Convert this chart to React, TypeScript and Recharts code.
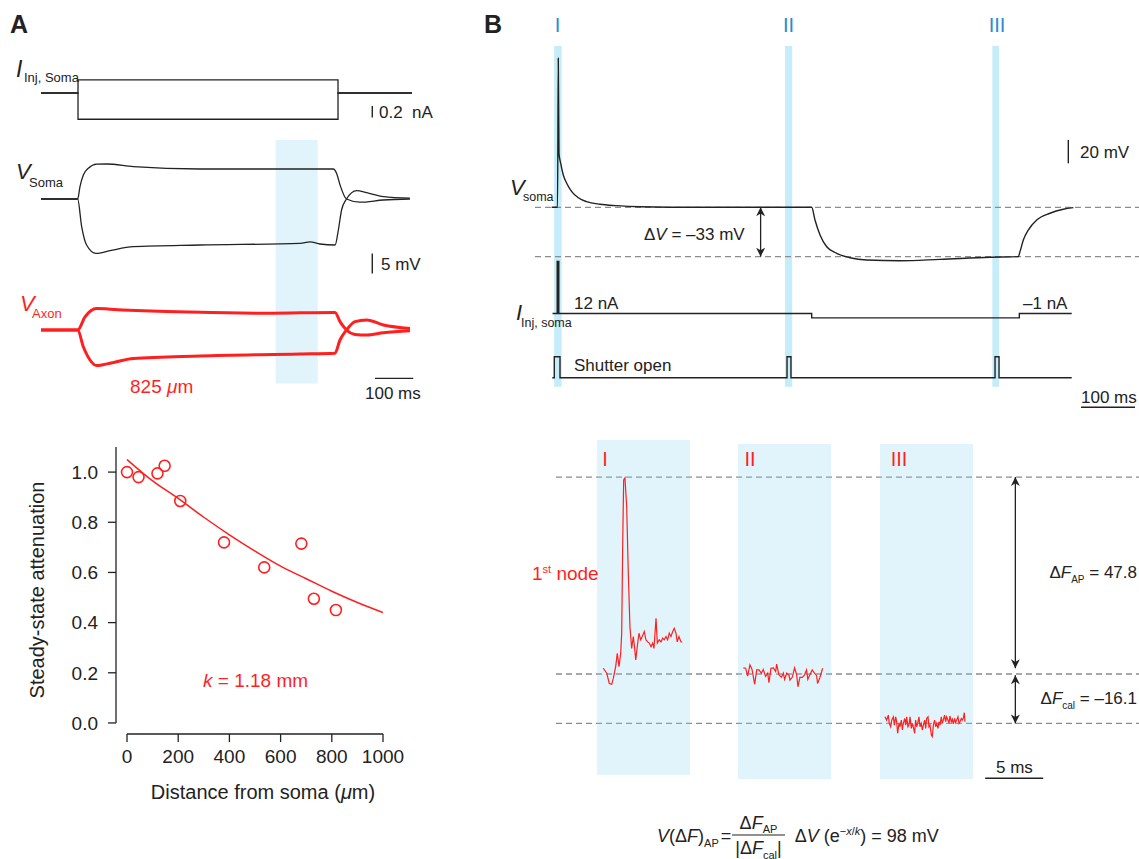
import React from "react";
import {
  ComposedChart,
  Line,
  LineChart,
  ReferenceArea,
  ReferenceLine,
  Scatter,
  XAxis,
  YAxis,
} from "recharts";

type Pt = [number, number];

const INK = "#222";
const RED = "#ff1f1f";
const DASH = "#8c8c8c";
const BLUE_TXT = "#2a8bd0";
const FONT = '"Liberation Sans", Arial, Helvetica, sans-serif';
const ZERO = { top: 0, right: 0, bottom: 0, left: 0 };

// ---------- Panel A, traces (time in ms; current in nA; voltage in mV from rest) ----------
const iStepUp: Pt[] = [[0, 0], [97.4, 0], [97.4, 0.23], [781.6, 0.23], [781.6, 0], [976, 0]];
const iStepDown: Pt[] = [[0, 0], [97.4, 0], [97.4, -0.46], [781.6, -0.46], [781.6, 0], [976, 0]];

const vSomaUp: Pt[] = [
  [0, 0], [96.5, 0], [102.6, 3.1], [111.4, 6.0], [124.6, 7.7], [146.5, 8.7], [172.8, 8.75],
  [243, 8.1], [418, 7.5], [769, 7.5], [778, 6.4], [787, 3.5], [804, 0], [839, -0.8],
  [901, -0.25], [971, 0],
];
const vSomaDown: Pt[] = [
  [0, 0], [96.5, 0], [107, -6.9], [120, -11.5], [144.7, -13.6], [181.6, -12.9], [243, -11.9],
  [418, -11.5], [681.6, -11.1], [708, -10.7], [734, -11.25], [774, -11.5], [782.5, -7.75],
  [791, -2.75], [804, 0], [830.7, 2.1], [857, 1.6], [901, 0.6], [971, 0.2],
];
const vAxonUp: Pt[] = [
  [0, 0], [96.5, 0], [115.8, 3.3], [146.5, 5.4], [181.6, 5.2], [330.7, 4.6], [593.9, 4.2],
  [773.7, 4.4], [786.8, 2.1], [804, 0], [826.3, -1.1], [857, -1.25], [901, -0.7], [971, -0.2],
];
const vAxonDown: Pt[] = [
  [0, 0], [96.5, 0], [111.4, -4.2], [129, -7.5], [146.5, -8.9], [181.6, -8.3], [243, -7.1],
  [418, -6.5], [681.6, -6.0], [773.7, -5.8], [786.8, -2.5], [804, 0], [826.3, 2.1], [857, 2.5],
  [901, 1.25], [971, 0.4],
];

// ---------- Panel A, attenuation vs distance ----------
const distance = [0, 45, 119, 147, 208, 379, 536, 681, 730, 816];
const attenuation = [1.0, 0.98, 0.995, 1.025, 0.885, 0.72, 0.62, 0.715, 0.495, 0.45];
const fitDistance = [0, 100, 200, 300, 400, 500, 600, 700, 800, 900, 1000];
const fitAttenuation = [1.05, 0.965, 0.895, 0.82, 0.75, 0.685, 0.625, 0.575, 0.525, 0.48, 0.44];
const distanceTicks = [0, 200, 400, 600, 800, 1000];
const attenuationTicks = [0, 0.2, 0.4, 0.6, 0.8, 1.0];

// ---------- Panel B, protocol (time in ms) ----------
const vSomaB: Pt[] = [
  [30.9, 0], [41.7, 0], [43.1, 127.7], [44.4, 46.3], [47.6, 37.7], [52.4, 27.7], [58.7, 20.6],
  [68, 13.4], [80.2, 8.2], [95.7, 4.8], [120.4, 2.6], [151.3, 1.4], [194.4, 0.5], [305.6, 0],
  [512.4, 0], [518.5, -10.9], [527.8, -23.7], [540.2, -33.8], [558.7, -39.4], [583.3, -43.2],
  [614.3, -45.2], [675.9, -45.8], [750, -44.6], [842.6, -42.8], [895, -42.3], [898.1, -38],
  [904.3, -28], [913.5, -19.5], [929.1, -10.9], [953.7, -5.1], [978.3, -1.7], [996.9, -0.3],
];
const iInjB: Pt[] = [[32.4, 0], [512.4, 0], [512.4, -1], [896.9, -1], [896.9, 0], [993.9, 0]];
const iSpikeB: Pt[] = [[42.6, 0], [42.6, 12]];
const shutter: Pt[] = [
  [32, 0], [35.7, 0], [35.7, 1], [46.3, 1], [46.3, 0], [466.7, 0], [466.7, 1], [474, 1],
  [474, 0], [851.9, 0], [851.9, 1], [859.3, 1], [859.3, 0], [993.9, 0],
];
const windowsB: Pt[] = [[35.5, 49.3], [463, 476.3], [846.9, 859.3]];
const restLevel = 0;
const stepLevel = -42.3;

// ---------- Panel B, 1st node fluorescence (ms within window, ΔF) ----------
const nodeAP: Pt[] = [
  [0.54, 1.4], [0.84, 0.2], [1.06, -2.3], [1.27, -2.5], [1.41, -1.0], [1.61, 1.8], [1.75, 5.0],
  [1.9, 1.8], [2.04, 5.0], [2.13, 9.9], [2.22, 32.5], [2.3, 47.1], [2.41, 47.6], [2.56, 40.6],
  [2.7, 24.4], [2.84, 11.5], [2.99, 6.2], [3.13, 9.1], [3.22, 7.0], [3.34, 3.4], [3.47, 6.6],
  [3.62, 9.9], [3.77, 8.3], [3.9, 9.1], [4.08, 10.3], [4.22, 8.3], [4.37, 7.8], [4.51, 7.5],
  [4.66, 6.6], [4.8, 7.5], [4.91, 6.2], [5.09, 13.5], [5.2, 7.5], [5.37, 8.3], [5.52, 7.8],
  [5.66, 8.7], [5.8, 8.3], [5.95, 9.1], [6.09, 8.3], [6.23, 9.9], [6.38, 9.1], [6.53, 10.3],
  [6.66, 11.1], [6.81, 9.9], [6.92, 7.8], [7.07, 9.1], [7.24, 7.8], [7.35, 7.7],
];
const nodeRest: Pt[] = [
  [0.46, 1.5], [0.66, 1.4], [0.83, -0.5], [1.03, 2.2], [1.21, 1.1], [1.44, -2.5], [1.61, 1.0],
  [1.81, 1.0], [2.01, 0.2], [2.18, 1.1], [2.38, -0.6], [2.56, 0.2], [2.67, -2.1], [2.84, 1.4],
  [3.05, 1.5], [3.25, 0.6], [3.33, 2.4], [3.53, -0.2], [3.74, -0.8], [3.91, 0.2], [4.02, -1.3],
  [4.2, 0.2], [4.4, -0.3], [4.48, -1.5], [4.68, -0.8], [4.88, 1.5], [5.06, -0.2], [5.17, -3.1],
  [5.34, -0.8], [5.54, -0.8], [5.74, -0.2], [5.91, 1.0], [6.02, -1.3], [6.2, -0.2], [6.4, 1.0],
  [6.6, 0.2], [6.78, -0.4], [6.86, -2.3], [7.07, -0.8], [7.3, 1.4],
];
const nodeHyper: Pt[] = [
  [0.43, -10.4], [0.57, -11.2], [0.72, -10.0], [0.8, -12.0], [0.92, -12.8], [1.01, -11.2],
  [1.15, -10.4], [1.24, -12.4], [1.35, -10.4], [1.44, -11.6], [1.52, -14.4], [1.64, -12.0],
  [1.72, -12.8], [1.84, -11.2], [1.93, -13.6], [2.01, -12.0], [2.13, -10.8], [2.21, -12.4],
  [2.3, -10.4], [2.41, -12.8], [2.5, -12.4], [2.59, -10.4], [2.7, -13.2], [2.79, -12.0],
  [2.87, -12.8], [2.99, -14.4], [3.07, -11.2], [3.16, -12.8], [3.25, -12.0], [3.36, -10.4],
  [3.45, -12.8], [3.56, -12.0], [3.65, -13.6], [3.74, -12.4], [3.85, -11.2], [3.94, -13.2],
  [4.02, -10.8], [4.14, -10.4], [4.22, -12.8], [4.31, -12.4], [4.43, -14.8], [4.51, -15.2],
  [4.6, -12.4], [4.71, -11.2], [4.8, -12.8], [4.89, -12.0], [5.0, -13.2], [5.09, -11.6],
  [5.17, -12.4], [5.29, -10.4], [5.37, -12.0], [5.46, -11.2], [5.57, -10.0], [5.66, -11.6],
  [5.75, -10.4], [5.86, -11.2], [5.95, -12.0], [6.03, -10.2], [6.15, -11.6], [6.24, -11.0],
  [6.32, -12.1], [6.44, -10.8], [6.52, -11.8], [6.61, -11.2], [6.72, -10.4], [6.81, -12.0],
  [6.9, -11.6], [7.01, -10.8], [7.1, -11.2], [7.18, -10.8], [7.27, -9.4], [7.33, -11.6],
];
const dFap = 47.8;
const dFcal = -12.0;

const pts = (arr: Pt[]) => arr.map(([t, v]) => ({ t, v }));

const line = (key: string, data: Pt[], axis: string, stroke = INK, width = 1.3, curve: any = "linear") => (
  <Line
    key={key}
    data={pts(data)}
    dataKey="v"
    yAxisId={axis}
    type={curve}
    stroke={stroke}
    strokeWidth={width}
    dot={false}
    activeDot={false}
    isAnimationActive={false}
  />
);

const bar = (key: string, axis: string, x1: number, y1: number, x2: number, y2: number, extra: any = {}) => (
  <ReferenceLine
    key={key}
    yAxisId={axis}
    segment={[{ x: x1, y: y1 }, { x: x2, y: y2 }]}
    stroke={INK}
    strokeWidth={1.4}
    ifOverflow="visible"
    {...extra}
  />
);

const arrows = { markerStart: "url(#arrowHead)", markerEnd: "url(#arrowHead)", strokeWidth: 1.3 };

function Txt({ x, y, size = 17, color = INK, italic, weight, anchor = "start", children }: any) {
  const tx = anchor === "middle" ? "-50%" : anchor === "end" ? "-100%" : "0";
  return (
    <div
      style={{
        position: "absolute",
        left: x,
        top: y,
        transform: `translate(${tx}, -50%)`,
        fontSize: size,
        color,
        fontStyle: italic ? "italic" : "normal",
        fontWeight: weight,
        lineHeight: 1,
        whiteSpace: "nowrap",
        fontFamily: FONT,
      }}
    >
      {children}
    </div>
  );
}

const Sub = ({ children, size = 11, drop = 5 }: any) => (
  <span style={{ fontSize: size, position: "relative", top: drop }}>{children}</span>
);

function At({ left, top, children }: any) {
  return <div style={{ position: "absolute", left, top }}>{children}</div>;
}

function nodeWindow(key: string, left: number, top: number, yDom: [number, number], data: Pt[]) {
  return (
    <At key={key} left={left} top={top}>
      <LineChart width={93} height={335} margin={ZERO}>
        <XAxis type="number" dataKey="t" domain={[0, 8.02]} hide allowDataOverflow />
        <YAxis yAxisId="f" type="number" domain={yDom} hide allowDataOverflow />
        <ReferenceArea
          yAxisId="f"
          x1={0}
          x2={8.02}
          y1={yDom[0]}
          y2={yDom[1]}
          fill="rgb(135,210,240)"
          fillOpacity={0.25}
          stroke="none"
          ifOverflow="visible"
        />
        {line(key + "-trace", data, "f", RED, 1.2)}
      </LineChart>
    </At>
  );
}

export default function App() {
  const scatterData = distance.map((x, i) => ({ x, y: attenuation[i] }));
  const fitData = fitDistance.map((x, i) => ({ x, y: fitAttenuation[i] }));
  const ring = (p: any) => <circle cx={p.cx} cy={p.cy} r={5.5} fill="none" stroke={RED} strokeWidth={1.6} />;

  return (
    <div
      style={{
        position: "absolute",
        left: 0,
        top: 0,
        width: 1139,
        height: 859,
        background: "#fff",
        overflow: "hidden",
        fontFamily: FONT,
        color: INK,
      }}
    >
      <svg width={0} height={0} style={{ position: "absolute" }}>
        <defs>
          <marker
            id="arrowHead"
            viewBox="0 0 10 10"
            refX={10}
            refY={5}
            markerWidth={10}
            markerHeight={9}
            markerUnits="userSpaceOnUse"
            orient="auto-start-reverse"
          >
            <path d="M0,0 L10,5 L0,10 L3,5 z" fill={INK} />
          </marker>
        </defs>
      </svg>

      {/* ---------------- Panel A traces ---------------- */}
      <At left={41} top={40}>
        <LineChart width={380} height={360} margin={ZERO}>
          <XAxis type="number" dataKey="t" domain={[0, 1000]} hide allowDataOverflow />
          <YAxis yAxisId="cur" type="number" domain={[-5.386, 0.93]} hide allowDataOverflow />
          <YAxis yAxisId="soma" type="number" domain={[-50.25, 39.75]} hide allowDataOverflow />
          <YAxis yAxisId="axon" type="number" domain={[-17.5, 72.5]} hide allowDataOverflow />
          <ReferenceArea
            yAxisId="soma"
            x1={617.6}
            x2={728.2}
            y1={14.75}
            y2={-46.1}
            fill="rgb(135,210,240)"
            fillOpacity={0.25}
            stroke="none"
            ifOverflow="visible"
          />
          {line("iUp", iStepUp, "cur")}
          {line("iDown", iStepDown, "cur")}
          {line("vsUp", vSomaUp, "soma", INK, 1.3, "monotone")}
          {line("vsDown", vSomaDown, "soma", INK, 1.3, "monotone")}
          {line("vaUp", vAxonUp, "axon", RED, 3, "monotone")}
          {line("vaDown", vAxonDown, "axon", RED, 3, "monotone")}
          {bar("nA", "cur", 871.8, -0.23, 871.8, -0.43)}
          {bar("mV5", "soma", 871.8, -13.6, 871.8, -18.6)}
          {bar("ms100", "axon", 878.9, -12.1, 979.7, -12.1)}
        </LineChart>
      </At>

      <Txt x={10} y={24} size={25} weight="bold">A</Txt>
      <Txt x={16} y={69} size={23} italic>I</Txt>
      <Txt x={24} y={77} size={13}>Inj, Soma</Txt>
      <Txt x={379} y={112}>0.2&nbsp;&nbsp;nA</Txt>
      <Txt x={16} y={172} size={22} italic>V</Txt>
      <Txt x={29} y={182} size={13}>Soma</Txt>
      <Txt x={381} y={264}>5 mV</Txt>
      <Txt x={20} y={304} size={22} italic color={RED}>V</Txt>
      <Txt x={32} y={313} size={13} color={RED}>Axon</Txt>
      <Txt x={130} y={386} size={19} color={RED}>
        825 <i>μ</i>m
      </Txt>
      <Txt x={365} y={393}>100 ms</Txt>

      {/* ---------------- Panel A attenuation ---------------- */}
      <At left={56} top={447}>
        <ComposedChart width={357} height={327} margin={{ top: 0, right: 30, bottom: 0, left: 0 }}>
          <XAxis
            type="number"
            dataKey="x"
            domain={[-43, 1000]}
            ticks={distanceTicks}
            interval={0}
            axisLine={false}
            tickSize={8}
            tickMargin={8}
            height={40}
            tick={{ fontSize: 19, fill: INK }}
            tickLine={{ stroke: INK, strokeWidth: 1.3 }}
            allowDataOverflow
          />
          <YAxis
            type="number"
            dataKey="y"
            domain={[-0.044, 1.1]}
            ticks={attenuationTicks}
            interval={0}
            tickFormatter={(v: number) => v.toFixed(1)}
            axisLine={false}
            tickSize={8}
            tickMargin={10}
            width={60}
            tick={{ fontSize: 19, fill: INK }}
            tickLine={{ stroke: INK, strokeWidth: 1.3 }}
            allowDataOverflow
          />
          <ReferenceLine segment={[{ x: -43, y: 0 }, { x: -43, y: 1.1 }]} stroke={INK} strokeWidth={1.3} ifOverflow="visible" />
          <ReferenceLine segment={[{ x: 0, y: -0.044 }, { x: 1000, y: -0.044 }]} stroke={INK} strokeWidth={1.3} ifOverflow="visible" />
          <Line data={fitData} dataKey="y" type="monotone" stroke={RED} strokeWidth={1.5} dot={false} activeDot={false} isAnimationActive={false} />
          <Scatter data={scatterData} dataKey="y" shape={ring} isAnimationActive={false} />
        </ComposedChart>
      </At>
      <div
        style={{
          position: "absolute",
          left: 37,
          top: 590,
          transform: "translate(-50%, -50%) rotate(-90deg)",
          fontSize: 20,
          lineHeight: 1,
          whiteSpace: "nowrap",
        }}
      >
        Steady-state attenuation
      </div>
      <Txt x={263} y={792} size={20} anchor="middle">
        Distance from soma (<i>μ</i>m)
      </Txt>
      <Txt x={203} y={680} size={19} color={RED}>
        <i>k</i> = 1.18 mm
      </Txt>

      {/* ---------------- Panel B protocol ---------------- */}
      <At left={535} top={40}>
        <LineChart width={604} height={380} margin={ZERO}>
          <XAxis type="number" dataKey="t" domain={[0, 1118.5]} hide allowDataOverflow />
          <YAxis yAxisId="vs" type="number" domain={[-182.3, 143.4]} hide allowDataOverflow />
          <YAxis yAxisId="inj" type="number" domain={[-24.2, 62.16]} hide allowDataOverflow />
          <YAxis yAxisId="sh" type="number" domain={[-2.014, 16.08]} hide allowDataOverflow />
          {windowsB.map(([a, b], i) => (
            <ReferenceArea
              key={"w" + i}
              yAxisId="vs"
              x1={a}
              x2={b}
              y1={138.2}
              y2={-153.7}
              fill="rgb(100,205,240)"
              fillOpacity={0.38}
              stroke="none"
              ifOverflow="visible"
            />
          ))}
          <ReferenceLine yAxisId="vs" y={restLevel} stroke={DASH} strokeWidth={1.3} strokeDasharray="6 4" ifOverflow="visible" />
          <ReferenceLine yAxisId="vs" y={stepLevel} stroke={DASH} strokeWidth={1.3} strokeDasharray="6 4" ifOverflow="visible" />
          {line("vB", vSomaB, "vs", INK, 1.4, "monotone")}
          {line("iB", iInjB, "inj", INK, 1.4)}
          {line("iSp", iSpikeB, "inj", INK, 3)}
          {line("sh", shutter, "sh", INK, 1.4)}
          {bar("mV20", "vs", 987.6, 37.7, 987.6, 57.7)}
          {bar("ms100B", "vs", 1011.1, -171.4, 1111.1, -171.4)}
          {bar("dV", "vs", 417.8, restLevel, 417.8, stepLevel, arrows)}
        </LineChart>
      </At>

      <Txt x={484} y={24} size={25} weight="bold">B</Txt>
      <Txt x={557.5} y={25} size={20} color={BLUE_TXT} anchor="middle">I</Txt>
      <Txt x={788.5} y={25} size={20} color={BLUE_TXT} anchor="middle">II</Txt>
      <Txt x={997} y={25} size={20} color={BLUE_TXT} anchor="middle">III</Txt>
      <Txt x={1080} y={152}>20 mV</Txt>
      <Txt x={510} y={188} size={22} italic>V</Txt>
      <Txt x={523} y={197} size={12.5}>soma</Txt>
      <Txt x={644} y={234}>
        Δ<i>V</i> = –33 mV
      </Txt>
      <Txt x={574} y={303}>12 nA</Txt>
      <Txt x={1023} y={303}>–1 nA</Txt>
      <Txt x={516} y={313} size={22} italic>I</Txt>
      <Txt x={521} y={323} size={12.5}>Inj, soma</Txt>
      <Txt x={574} y={365}>Shutter open</Txt>
      <Txt x={1081} y={397}>100 ms</Txt>

      {/* ---------------- Panel B fluorescence ---------------- */}
      <At left={556} top={430}>
        <LineChart width={583} height={360} margin={ZERO}>
          <XAxis type="number" dataKey="t" domain={[0, 50.26]} hide allowDataOverflow />
          <YAxis yAxisId="f" type="number" domain={[-28.16, 59.22]} hide allowDataOverflow />
          <ReferenceLine yAxisId="f" y={dFap} stroke={DASH} strokeWidth={1.3} strokeDasharray="6 4" ifOverflow="visible" />
          <ReferenceLine yAxisId="f" y={0} stroke={DASH} strokeWidth={1.3} strokeDasharray="6 4" ifOverflow="visible" />
          <ReferenceLine yAxisId="f" y={dFcal} stroke={DASH} strokeWidth={1.3} strokeDasharray="6 4" ifOverflow="visible" />
          {bar("apArrow", "f", 39.6, 1.4, 39.6, dFap, arrows)}
          {bar("calArrow", "f", 39.6, -0.3, 39.6, dFcal, arrows)}
          {bar("ms5", "f", 37, -25.3, 42, -25.3)}
        </LineChart>
      </At>
      {nodeWindow("wI", 597, 440, [-24.51, 56.8], nodeAP)}
      {nodeWindow("wII", 738, 444, [-25.49, 55.83], nodeRest)}
      {nodeWindow("wIII", 880, 444, [-25.49, 55.83], nodeHyper)}

      <Txt x={605} y={459} size={20} color={RED} anchor="middle">I</Txt>
      <Txt x={750} y={459} size={20} color={RED} anchor="middle">II</Txt>
      <Txt x={899} y={459} size={20} color={RED} anchor="middle">III</Txt>
      <Txt x={532} y={573} size={19} color={RED}>
        1<Sub size={11} drop={-7}>st</Sub> node
      </Txt>
      <Txt x={1137} y={572} size={17} anchor="end">
        Δ<i>F</i>
        <Sub size={10}>AP</Sub> = 47.8
      </Txt>
      <Txt x={1137} y={698} size={17} anchor="end">
        Δ<i>F</i>
        <Sub size={10}>cal</Sub> = –16.1
      </Txt>
      <Txt x={996} y={767}>5 ms</Txt>

      <div
        style={{
          position: "absolute",
          left: 657,
          top: 835,
          transform: "translateY(-50%)",
          display: "flex",
          alignItems: "center",
          fontSize: 18,
          lineHeight: 1,
          whiteSpace: "nowrap",
        }}
      >
        <span>
          <i>V</i>(Δ<i>F</i>)<Sub>AP</Sub>
        </span>
        <span style={{ margin: "0 1px 0 2px" }}>=</span>
        <span style={{ display: "inline-flex", flexDirection: "column", alignItems: "center" }}>
          <span style={{ padding: "0 3px 3px" }}>
            Δ<i>F</i>
            <Sub drop={4}>AP</Sub>
          </span>
          <span style={{ borderTop: "1px solid " + INK, padding: "3px 3px 0" }}>
            |Δ<i>F</i>
            <Sub drop={5}>cal</Sub>|
          </span>
        </span>
        <span style={{ marginLeft: 10 }}>
          Δ<i>V</i> (e<Sub size={11} drop={-7}>−<i>x</i>/<i>k</i></Sub>) = 98 mV
        </span>
      </div>
    </div>
  );
}
